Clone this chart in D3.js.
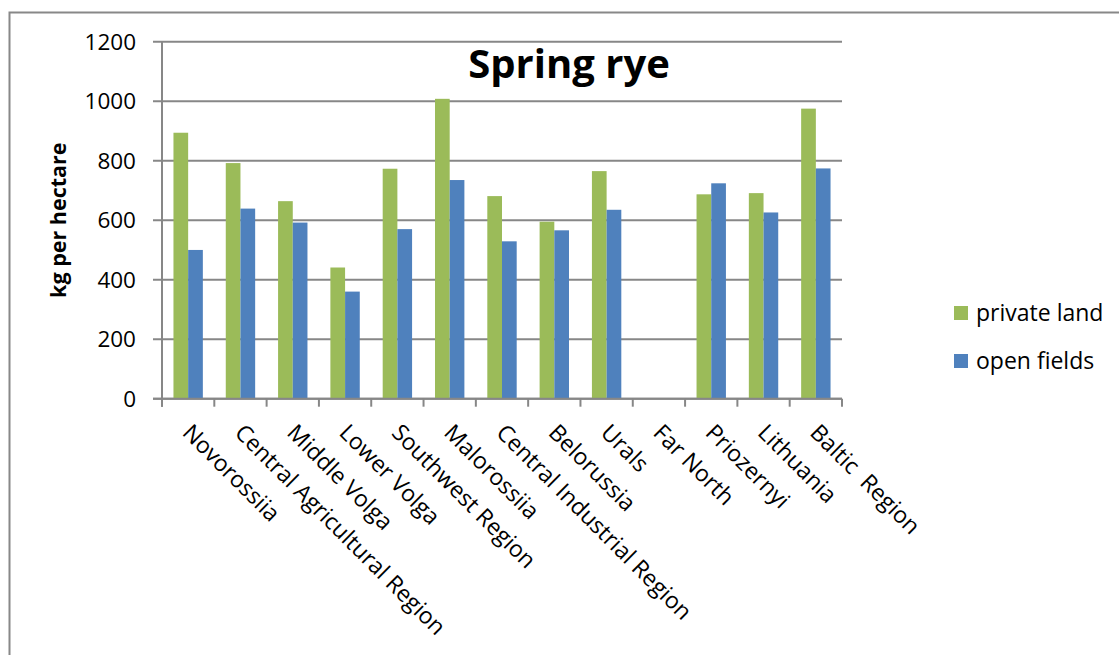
<!DOCTYPE html>
<html>
<head>
<meta charset="utf-8">
<script src="https://cdnjs.cloudflare.com/ajax/libs/d3/7.8.5/d3.min.js"></script>
<style>
  html, body { margin: 0; padding: 0; background: #fff; }
  svg { display: block; }
  text { font-family: "Open Sans", "Noto Sans", sans-serif; fill: #000; }
</style>
</head>
<body>
<svg id="chart" width="1119" height="655"></svg>
<script>
const categories = ["Novorossiia", "Central Agricultural Region", "Middle Volga", "Lower Volga",
  "Southwest Region", "Malorossiia", "Central Industrial Region", "Belorussia", "Urals",
  "Far North", "Priozernyi", "Lithuania", "Baltic  Region"];
const seriesNames = ["private land", "open fields"];
const privateLand = [894, 792, 664, 441, 773, 1008, 681, 595, 765, null, 687, 691, 975];
const openFields  = [500, 639, 592, 360, 570, 735, 529, 566, 635, null, 724, 626, 774];
const yTicks = [0, 200, 400, 600, 800, 1000, 1200];
const colors = ["#9BBB59", "#4F81BD"];
const title = "Spring rye";
const yTitle = "kg per hectare";

const svg = d3.select("#chart");
const W = 1119, H = 655;
svg.append("rect").attr("width", W).attr("height", H).attr("fill", "#fff");
// outer chart frame
svg.append("rect").attr("x", 9.5).attr("y", 12.5).attr("width", W + 10).attr("height", H + 10)
  .attr("fill", "none").attr("stroke", "#888").attr("stroke-width", 2);

const plot = {left: 162, right: 842, top: 41.7, bottom: 398.7};
const x0 = d3.scaleBand().domain(categories).range([plot.left, plot.right]).padding(0);
const x1 = d3.scaleBand().domain(seriesNames).range([0, x0.bandwidth()]).paddingInner(0).paddingOuter(0.78);
const y = d3.scaleLinear().domain([0, 1200]).range([plot.bottom, plot.top]);

const gridColor = "#878787";
// gridlines
svg.append("g").selectAll("line").data(yTicks).join("line")
  .attr("x1", plot.left - 9).attr("x2", plot.right)
  .attr("y1", d => y(d)).attr("y2", d => y(d))
  .attr("stroke", gridColor).attr("stroke-width", 2);

// y labels
svg.append("g").selectAll("text").data(yTicks).join("text")
  .attr("x", 136).attr("y", d => y(d)).attr("dy", "0.36em")
  .attr("text-anchor", "end").attr("font-size", 22.5).text(d => d);

// bars
const rows = categories.map((c, i) => ({cat: c, vals: [privateLand[i], openFields[i]]}));
const groups = svg.append("g").selectAll("g").data(rows).join("g")
  .attr("transform", d => `translate(${x0(d.cat)},0)`);
groups.selectAll("rect").data(d => d.vals.map((v, k) => ({k, v})).filter(e => e.v != null)).join("rect")
  .attr("x", e => x1(seriesNames[e.k]))
  .attr("width", x1.bandwidth())
  .attr("y", e => y(e.v))
  .attr("height", e => y(0) - y(e.v))
  .attr("fill", e => colors[e.k]);

// y axis line
svg.append("line").attr("x1", plot.left).attr("x2", plot.left)
  .attr("y1", plot.top).attr("y2", plot.bottom + 8)
  .attr("stroke", gridColor).attr("stroke-width", 2);
// x axis line + ticks
svg.append("line").attr("x1", plot.left - 9).attr("x2", plot.right)
  .attr("y1", plot.bottom).attr("y2", plot.bottom)
  .attr("stroke", gridColor).attr("stroke-width", 2);
const boundaries = categories.map(c => x0(c)).concat([plot.right]);
svg.append("g").selectAll("line").data(boundaries).join("line")
  .attr("x1", d => d).attr("x2", d => d)
  .attr("y1", plot.bottom).attr("y2", plot.bottom + 8)
  .attr("stroke", gridColor).attr("stroke-width", 2);

// x labels rotated 45
svg.append("g").selectAll("text").data(categories).join("text")
  .attr("transform", c => `translate(${x0(c) + x0.bandwidth() / 2 - 7},434) rotate(45)`)
  .attr("font-size", 23)
  .attr("xml:space", "preserve")
  .style("white-space", "pre")
  .text(c => c);

// title
svg.append("text").attr("x", 569).attr("y", 78).attr("text-anchor", "middle")
  .attr("font-size", 40).attr("font-weight", "bold").text(title);

// y title
svg.append("text").attr("transform", `translate(66,${(plot.top + plot.bottom) / 2}) rotate(-90)`)
  .attr("text-anchor", "middle").attr("font-size", 21.5).attr("font-weight", "bold").text(yTitle);

// legend
const leg = svg.append("g").selectAll("g").data(seriesNames).join("g")
  .attr("transform", (d, i) => `translate(954,${306 + i * 48})`);
leg.append("rect").attr("width", 14).attr("height", 14).attr("fill", (d, i) => colors[i]);
leg.append("text").attr("x", 22).attr("y", 7).attr("dy", "0.36em").attr("font-size", 23).text(d => d);
</script>
</body>
</html>
